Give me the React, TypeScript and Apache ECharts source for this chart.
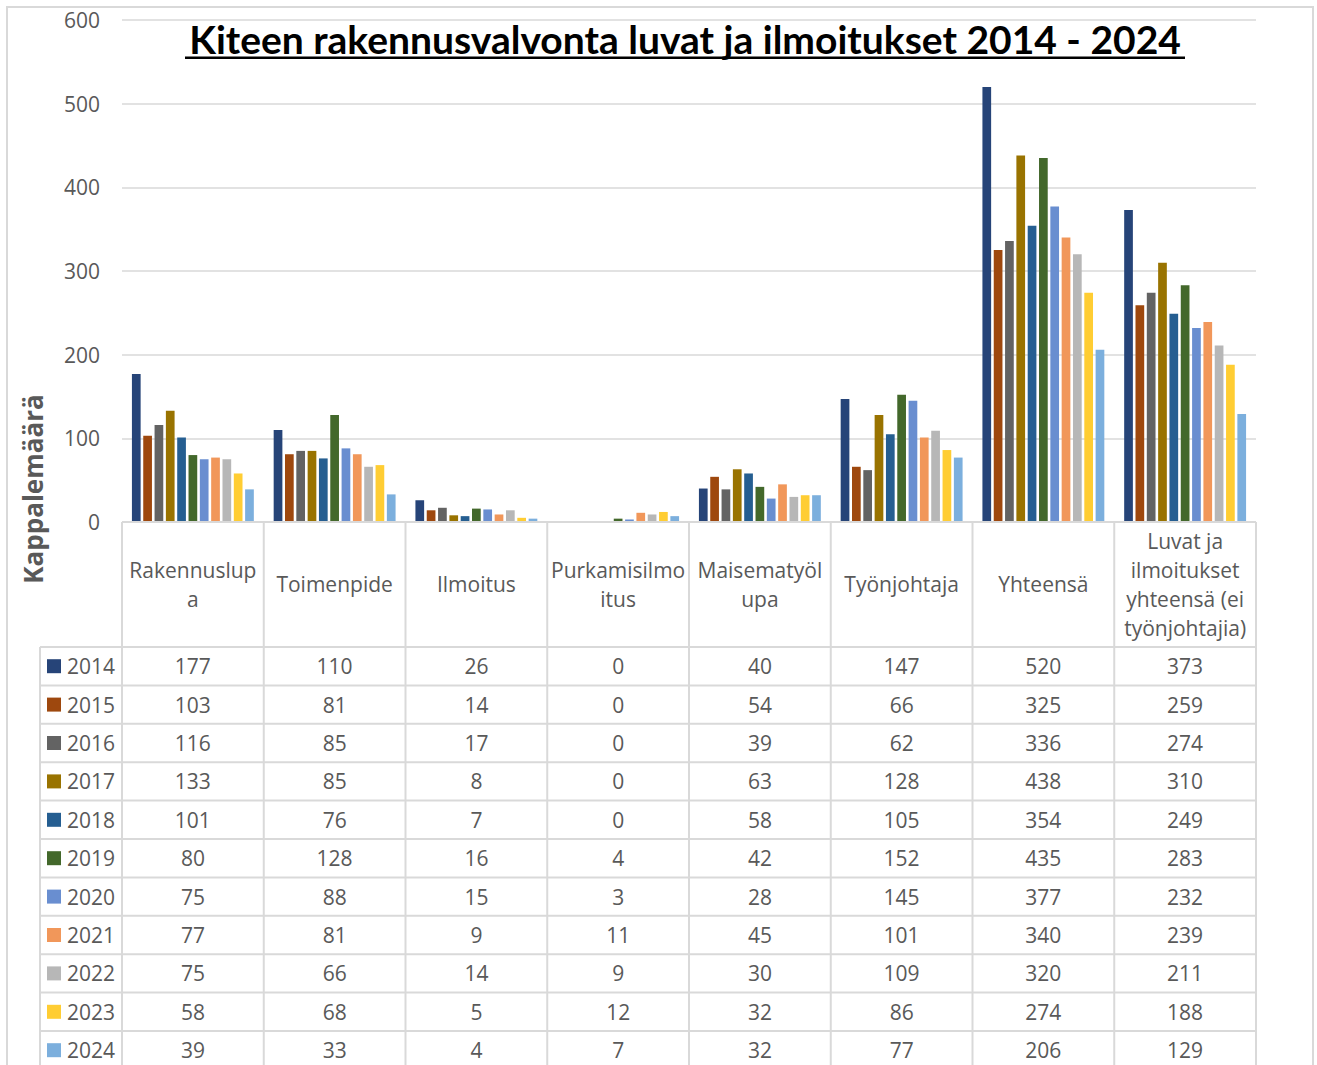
import React, { useEffect, useRef } from "react";
import * as echarts from "echarts";

// ---------- data ----------
const categories = [
  "Rakennuslupa",
  "Toimenpide",
  "Ilmoitus",
  "Purkamisilmoitus",
  "Maisematyölupa",
  "Työnjohtaja",
  "Yhteensä",
  "Luvat ja ilmoitukset yhteensä (ei työnjohtajia)",
];
// how the category names are wrapped in the data-table header
const headerLabels = [
  "Rakennuslup\na",
  "Toimenpide",
  "Ilmoitus",
  "Purkamisilmo\nitus",
  "Maisematyöl\nupa",
  "Työnjohtaja",
  "Yhteensä",
  "Luvat ja\nilmoitukset\nyhteensä (ei\ntyönjohtajia)",
];
const years = ["2014", "2015", "2016", "2017", "2018", "2019", "2020", "2021", "2022", "2023", "2024"];
const v2014 = [177, 110, 26, 0, 40, 147, 520, 373];
const v2015 = [103, 81, 14, 0, 54, 66, 325, 259];
const v2016 = [116, 85, 17, 0, 39, 62, 336, 274];
const v2017 = [133, 85, 8, 0, 63, 128, 438, 310];
const v2018 = [101, 76, 7, 0, 58, 105, 354, 249];
const v2019 = [80, 128, 16, 4, 42, 152, 435, 283];
const v2020 = [75, 88, 15, 3, 28, 145, 377, 232];
const v2021 = [77, 81, 9, 11, 45, 101, 340, 239];
const v2022 = [75, 66, 14, 9, 30, 109, 320, 211];
const v2023 = [58, 68, 5, 12, 32, 86, 274, 188];
const v2024 = [39, 33, 4, 7, 32, 77, 206, 129];
const yearValues = [v2014, v2015, v2016, v2017, v2018, v2019, v2020, v2021, v2022, v2023, v2024];
const yMin = 0;
const yMax = 600;
const yStep = 100;
const title = "Kiteen rakennusvalvonta luvat ja ilmoitukset 2014 - 2024";
const yName = "Kappalemäärä";

// ---------- style / layout ----------
const colors = [
  "#264478", "#9E480E", "#636363", "#997300", "#255E91", "#43682B",
  "#698ED0", "#F1975A", "#B7B7B7", "#FFCD33", "#7CAFDD",
];
const W = 1317;
const H = 1065;
const plotL = 122;
const plotR = 1256;
const plotT = 20;
const plotB = 522;
const headerB = 647;
const rowH = 38.4;
const tableL = 40;
const tableBottom = 1085;
const lineColor = "#D9D9D9";
const textColor = "#595959";
const font = "'Open Sans', 'Noto Sans', sans-serif";

function buildGraphic() {
  const g: any[] = [];
  const colW = (plotR - plotL) / categories.length;
  const line = (x1: number, y1: number, x2: number, y2: number, w = 2) =>
    g.push({
      type: "line",
      silent: true,
      z: 10,
      shape: { x1, y1, x2, y2 },
      style: { stroke: lineColor, lineWidth: w },
    });
  // outer chart border
  g.push({
    type: "rect",
    silent: true,
    z: 0,
    shape: { x: 7, y: 7, width: 1306, height: 1100 },
    style: { fill: "none", stroke: lineColor, lineWidth: 2 },
  });
  // table: top line (axis at 0)
  line(plotL, plotB, plotR, plotB);
  // vertical column lines
  for (let i = 0; i <= categories.length; i++) {
    const x = plotL + i * colW;
    line(x, plotB, x, tableBottom);
  }
  // legend column left border
  line(tableL, headerB, tableL, tableBottom);
  // row lines
  for (let k = 0; k <= years.length; k++) {
    const y = headerB + k * rowH;
    line(tableL, y, plotR, y);
  }
  // rows
  years.forEach((yr, k) => {
    const cy = headerB + (k + 0.5) * rowH;
    g.push({
      type: "rect",
      silent: true,
      z: 11,
      shape: { x: 47, y: cy - 7, width: 14, height: 14 },
      style: { fill: colors[k] },
    });
    g.push({
      type: "text",
      silent: true,
      z: 11,
      x: 67,
      y: cy,
      style: {
        text: yr,
        fill: textColor,
        fontSize: 21,
        fontFamily: font,
        textAlign: "left",
        textVerticalAlign: "middle",
        verticalAlign: "middle",
      },
    });
    yearValues[k].forEach((v, i) => {
      g.push({
        type: "text",
        silent: true,
        z: 11,
        x: plotL + (i + 0.5) * colW,
        y: cy,
        style: {
          text: String(v),
          fill: textColor,
          fontSize: 21,
          fontFamily: font,
          textAlign: "center",
          textVerticalAlign: "middle",
          verticalAlign: "middle",
        },
      });
    });
  });
  // title
  g.push({
    type: "text",
    silent: true,
    z: 12,
    x: 685,
    y: 39,
    style: {
      text: title,
      fill: "#000000",
      fontSize: 39,
      fontWeight: "bold",
      fontFamily: "Lato, 'Open Sans', sans-serif",
      textAlign: "center",
      textVerticalAlign: "middle",
      verticalAlign: "middle",
    },
  });
  g.push({
    type: "rect",
    silent: true,
    z: 12,
    shape: { x: 185, y: 56.5, width: 1000, height: 2.5 },
    style: { fill: "#000000" },
  });
  // y axis name
  g.push({
    type: "text",
    silent: true,
    z: 12,
    x: 33,
    y: 489,
    rotation: Math.PI / 2,
    style: {
      text: yName,
      fill: textColor,
      fontSize: 26,
      fontWeight: "bold",
      fontFamily: font,
      textAlign: "center",
      textVerticalAlign: "middle",
      verticalAlign: "middle",
    },
  });
  return g;
}

export default function App() {
  const ref = useRef<HTMLDivElement>(null);
  useEffect(() => {
    if (!ref.current) return;
    const chart = echarts.init(ref.current, undefined, { renderer: "svg" });
    chart.setOption({
      animation: false,
      backgroundColor: "#ffffff",
      color: colors,
      grid: {
        left: plotL,
        top: plotT,
        width: plotR - plotL,
        height: plotB - plotT,
        containLabel: false,
      },
      xAxis: {
        type: "category",
        data: categories,
        axisLine: { show: false },
        axisTick: { show: false },
        splitLine: { show: false },
        axisLabel: {
          interval: 0,
          formatter: (_v: string, i: number) => headerLabels[i],
          margin: 62,
          verticalAlign: "middle",
          lineHeight: 29,
          fontSize: 21,
          color: textColor,
          fontFamily: font,
        },
      },
      yAxis: {
        type: "value",
        min: yMin,
        max: yMax,
        interval: yStep,
        axisLine: { show: false },
        axisTick: { show: false },
        axisLabel: {
          margin: 22,
          fontSize: 21,
          color: textColor,
          fontFamily: font,
        },
        splitLine: { lineStyle: { color: lineColor, width: 1.5 } },
      },
      series: years.map((y, i) => ({
        name: y,
        type: "bar",
        data: yearValues[i],
        barGap: "30%",
        barCategoryGap: "14%",
        itemStyle: { color: colors[i] },
      })),
      graphic: buildGraphic(),
    });
    return () => chart.dispose();
  }, []);
  return (
    <div
      ref={ref}
      style={{ position: "absolute", left: 0, top: 0, width: W, height: H }}
    />
  );
}
